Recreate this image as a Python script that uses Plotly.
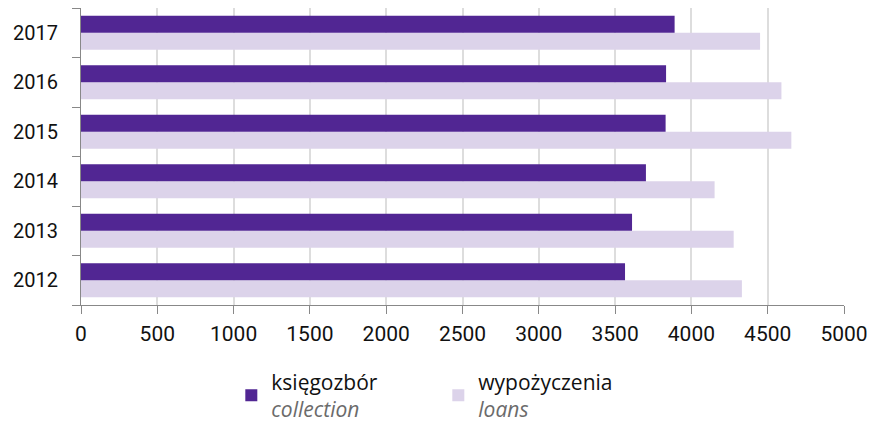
import plotly.graph_objects as go

years = ["2012", "2013", "2014", "2015", "2016", "2017"]
collection = [3565, 3611, 3702, 3831, 3834, 3890]
loans = [4331, 4277, 4152, 4655, 4590, 4450]
x_ticks = [0, 500, 1000, 1500, 2000, 2500, 3000, 3500, 4000, 4500, 5000]

FONT = "Roboto"
LFONT = "Open Sans"
DARK = "#512693"
LIGHT = "#dcd3ea"

fig = go.Figure()
fig.add_trace(go.Bar(
    y=years, x=loans, orientation="h", marker_color=LIGHT,
    marker_line_width=0,
    name="wypożyczenia<br><span style='color:#6b6b6b'><i>loans</i></span>",
))
fig.add_trace(go.Bar(
    y=years, x=collection, orientation="h", marker_color=DARK,
    marker_line_width=0,
    name="księgozbór<br><span style='color:#6b6b6b'><i>collection</i></span>",
))

fig.update_layout(
    width=871, height=423,
    margin=dict(l=81, r=27, t=8, b=118, autoexpand=False),
    paper_bgcolor="white", plot_bgcolor="white",
    barmode="group", bargap=0.31, bargroupgap=0,
    font=dict(family=FONT, size=18, color="#111"),
    showlegend=True,
    legend=dict(
        orientation="h", traceorder="reversed",
        x=0.197, xanchor="left", y=-0.19, yanchor="top",
        font=dict(family=LFONT, size=21, color="#111"),
        itemwidth=30, entrywidth=162, itemsizing="constant",
    ),
)
fig.update_xaxes(
    range=[0, 5000], tickvals=x_ticks, ticktext=[str(v) for v in x_ticks],
    showgrid=True, gridcolor="#dddddd", gridwidth=1.5,
    showline=True, linecolor="#888", linewidth=1,
    ticks="outside", ticklen=8, tickcolor="#888",
    tickfont=dict(family=FONT, size=21, color="#111"),
    ticklabelstandoff=2,
    zeroline=False, automargin=False,
)
fig.update_yaxes(
    type="category", categoryorder="array", categoryarray=years,
    showline=True, linecolor="#888", linewidth=1,
    ticks="outside", ticklen=8, tickcolor="#888", tickson="boundaries",
    tickfont=dict(family=FONT, size=20, color="#111"),
    ticklabelstandoff=18,
    showgrid=False, automargin=False,
)

fig.write_html(
    "out.html",
    config={"displayModeBar": False},
    post_script="document.body.style.margin='0';document.body.style.overflow='hidden';",
)
